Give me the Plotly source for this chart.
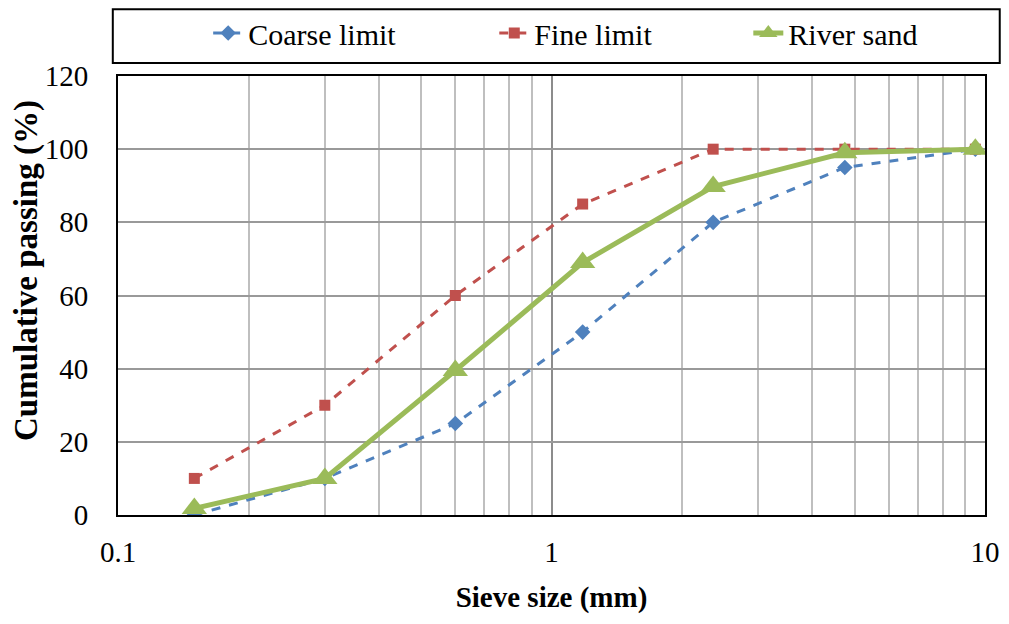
import plotly.graph_objects as go

sieve = [0.15, 0.3, 0.6, 1.18, 2.36, 4.75, 9.5]
coarse = [0, 10, 25, 50, 80, 95, 100]
fine = [10, 30, 60, 85, 100, 100, 100]
river = [1.8, 10, 39.5, 69, 89.8, 99, 100]

FONT = "Liberation Serif"

fig = go.Figure()
fig.add_trace(go.Scatter(x=sieve, y=coarse, name="Coarse limit", mode="lines+markers",
                         line=dict(color="#4F81BD", width=3, dash="dash"),
                         marker=dict(symbol="diamond", size=12, color="#4F81BD"), legend="legend"))
fig.add_trace(go.Scatter(x=sieve, y=fine, name="Fine limit", mode="lines+markers",
                         line=dict(color="#C0504D", width=3, dash="dash"),
                         marker=dict(symbol="square", size=11, color="#C0504D"), legend="legend2"))
fig.add_trace(go.Scatter(x=sieve, y=river, name="River sand", mode="lines+markers",
                         line=dict(color="#9BBB59", width=5),
                         marker=dict(symbol="triangle-up", size=22, color="#9BBB59"), legend="legend3"))

leg = dict(yref="container", y=0.9594, yanchor="middle", xanchor="left",
           font=dict(family=FONT, size=30, color="black"), bgcolor="rgba(0,0,0,0)", borderwidth=0)

fig.update_layout(
    width=1001, height=616,
    margin=dict(l=110, r=24, t=68, b=109),
    paper_bgcolor="white", plot_bgcolor="white",
    font=dict(family=FONT, size=29, color="black"),
    showlegend=True,
    legend=dict(leg, x=0.104),
    legend2=dict(leg, x=0.434),
    legend3=dict(leg, x=0.727),
    xaxis=dict(type="log", range=[-1, 1], tickvals=[0.1, 1, 10], ticktext=["0.1", "1", "10"],
               tickfont=dict(family=FONT, size=29, color="black"),
               showgrid=True, gridcolor="#8C8C8C", gridwidth=2,
               minor=dict(showgrid=True, gridcolor="#BFBFBF", gridwidth=2,
                          tickvals=[0.2, 0.3, 0.4, 0.5, 0.6, 0.7, 0.8, 0.9, 2, 3, 4, 5, 6, 7, 8, 9]),
               showline=True, linecolor="black", linewidth=2, mirror=True,
               ticks="", ticklabelstandoff=10, automargin=False,
               title=dict(text="<b>Sieve size (mm)</b>", font=dict(family=FONT, size=29, color="black"), standoff=20)),
    yaxis=dict(range=[0, 120], dtick=20, showgrid=True, gridcolor="#999999", gridwidth=2,
               tickfont=dict(family=FONT, size=29, color="black"),
               showline=True, linecolor="black", linewidth=2, mirror=True, ticks="",
               ticklabelstandoff=22, zeroline=False, automargin=False),
)

fig.add_annotation(text="<b>Cumulative passing (%)</b>", textangle=-90, showarrow=False,
                   xref="paper", yref="paper", x=-0.1061, y=0.5558, xanchor="center", yanchor="middle",
                   font=dict(family=FONT, size=33, color="black"))

fig.add_shape(type="rect", xref="paper", yref="paper", x0=-0.006, x1=1.017, y0=1.0296, y1=1.152,
              line=dict(color="black", width=2), fillcolor="rgba(0,0,0,0)")

fig.write_html("out.html")
